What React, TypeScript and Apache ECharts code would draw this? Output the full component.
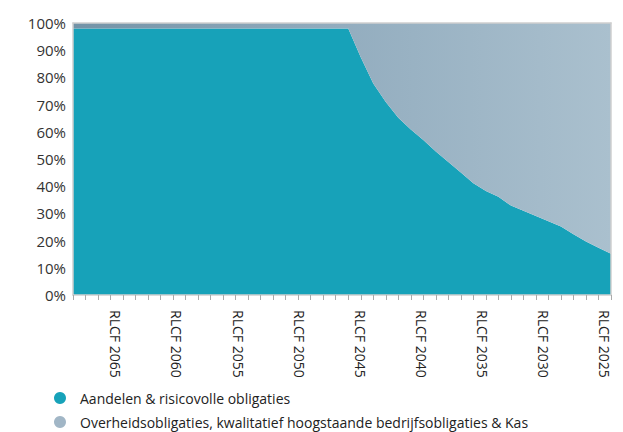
import React, { useEffect, useRef } from "react";
import * as echarts from "echarts";

const years = [
  2068, 2067, 2066, 2065, 2064, 2063, 2062, 2061, 2060, 2059, 2058, 2057, 2056, 2055, 2054,
  2053, 2052, 2051, 2050, 2049, 2048, 2047, 2046, 2045, 2044, 2043, 2042, 2041, 2040, 2039,
  2038, 2037, 2036, 2035, 2034, 2033, 2032, 2031, 2030, 2029, 2028, 2027, 2026, 2025,
];

const equities = [
  98, 98, 98, 98, 98, 98, 98, 98, 98, 98, 98, 98, 98, 98, 98, 98, 98, 98, 98, 98, 98, 98, 98,
  87.4, 77.8, 71, 65.2, 60.8, 57, 52.8, 48.9, 45, 41.1, 38.2, 36.1, 32.9, 31, 29, 27.1, 25.2,
  22.3, 19.7, 17.4, 15.2,
];

const bonds = [
  2, 2, 2, 2, 2, 2, 2, 2, 2, 2, 2, 2, 2, 2, 2, 2, 2, 2, 2, 2, 2, 2, 2,
  12.6, 22.2, 29, 34.8, 39.2, 43, 47.2, 51.1, 55, 58.9, 61.8, 63.9, 67.1, 69, 71, 72.9, 74.8,
  77.7, 80.3, 82.6, 84.8,
];

const seriesNames = [
  "Aandelen & risicovolle obligaties",
  "Overheidsobligaties, kwalitatief hoogstaande bedrijfsobligaties & Kas",
];

const yTicks = [0, 10, 20, 30, 40, 50, 60, 70, 80, 90, 100];

const FONT = "Open Sans";

export default function App() {
  const ref = useRef<HTMLDivElement>(null);

  useEffect(() => {
    if (!ref.current) return;
    const chart = echarts.init(ref.current, null, { renderer: "svg" });
    const cats = years.map((y) => "RLCF " + y);
    const legendBase = {
      left: 49,
      itemWidth: 30,
      itemHeight: 12,
      itemGap: 8,
      icon: "circle",
      textStyle: { fontFamily: FONT, fontSize: 14, color: "#222" },
    };
    const border = { show: true, lineStyle: { color: "#cfcfcf", width: 1.5 } };
    chart.setOption({
      animation: false,
      textStyle: { fontFamily: FONT },
      grid: {
        left: 73,
        right: 12,
        top: 23,
        bottom: 137,
        show: false,
      },
      legend: [
        { ...legendBase, top: 386, data: [seriesNames[0]] },
        { ...legendBase, top: 410, data: [seriesNames[1]] },
      ],
      xAxis: [
        {
          type: "category",
          data: cats,
          boundaryGap: false,
          position: "bottom",
          z: 10,
          axisLine: { onZero: false, ...border },
          axisTick: {
            show: true,
            interval: 0,
            length: 5,
            lineStyle: { color: "#aaaaaa", width: 1 },
          },
          axisLabel: { show: false },
          splitLine: { show: false },
        },
        {
          type: "category",
          data: cats,
          boundaryGap: true,
          position: "bottom",
          z: 10,
          axisLine: { show: false },
          axisTick: { show: false },
          splitLine: { show: false },
          axisLabel: {
            show: true,
            rotate: -90,
            margin: 15,
            fontFamily: FONT,
            fontSize: 14,
            color: "#222",
            interval: (index: number, value: string) =>
              Number(String(value).split(" ")[1]) % 5 === 0,
          },
        },
        {
          type: "category",
          data: cats,
          boundaryGap: false,
          position: "top",
          z: 10,
          axisLine: { onZero: false, ...border },
          axisTick: { show: false },
          axisLabel: { show: false },
          splitLine: { show: false },
        },
      ],
      yAxis: [
        {
          type: "value",
          min: yTicks[0],
          max: yTicks[yTicks.length - 1],
          interval: 10,
          position: "left",
          z: 10,
          axisLine: { onZero: false, ...border },
          axisTick: { show: false },
          splitLine: { show: false },
          axisLabel: {
            formatter: (v: number) => v + "%",
            fontFamily: FONT,
            fontSize: 15,
            color: "#333",
            margin: 7,
          },
        },
        {
          type: "value",
          min: yTicks[0],
          max: yTicks[yTicks.length - 1],
          interval: 10,
          position: "right",
          z: 10,
          axisLine: { onZero: false, ...border },
          axisTick: { show: false },
          axisLabel: { show: false },
          splitLine: { show: false },
        },
      ],
      series: [
        {
          name: seriesNames[0],
          type: "line",
          stack: "total",
          xAxisIndex: 0,
          yAxisIndex: 0,
          data: equities,
          symbol: "none",
          lineStyle: { width: 0 },
          itemStyle: { color: "#17a2b9" },
          areaStyle: { color: "#17a2b9", opacity: 1 },
        },
        {
          name: seriesNames[1],
          type: "line",
          stack: "total",
          xAxisIndex: 0,
          yAxisIndex: 0,
          data: bonds,
          symbol: "none",
          lineStyle: { width: 0 },
          itemStyle: { color: "#a1b6c6" },
          areaStyle: {
            opacity: 1,
            color: new echarts.graphic.LinearGradient(0, 0, 1, 0, [
              { offset: 0, color: "#7393a7" },
              { offset: 0.5, color: "#93adbf" },
              { offset: 1, color: "#aac0ce" },
            ]),
          },
        },
      ],
    });
    return () => chart.dispose();
  }, []);

  return (
    <div
      ref={ref}
      style={{ position: "absolute", left: 0, top: 0, width: 623, height: 432 }}
    />
  );
}
